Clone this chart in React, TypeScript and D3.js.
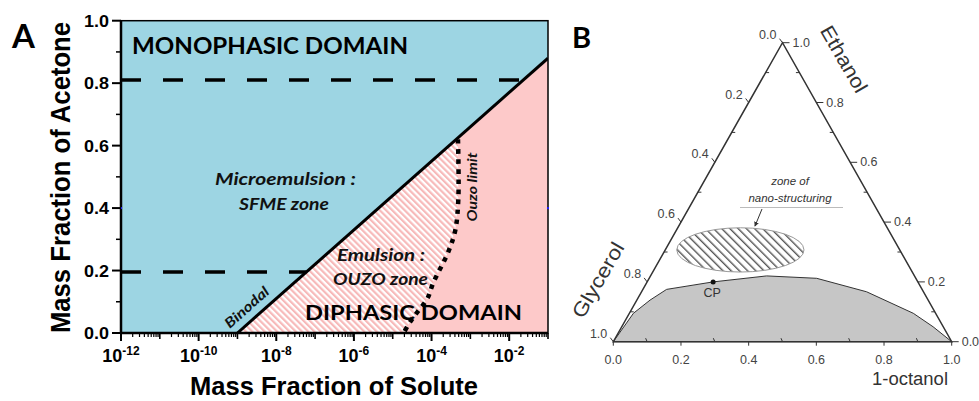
import * as d3 from "d3";

// ---- panel A data ----
const yTicks = [0, 0.2, 0.4, 0.6, 0.8, 1.0];
const yMinorTicks = [0.1, 0.3, 0.5, 0.7, 0.9];
const xTickExps = [-12, -10, -8, -6, -4, -2];
const binodal: [number, number][] = [
  [1e-9, 0],
  [1e-1, 0.88],
];
const ouzoLimit: [number, number][] = [
  [4.8e-4, 0.62],
  [4.9e-4, 0.43],
  [4.1e-4, 0.33],
  [2.7e-4, 0.26],
  [1.1e-4, 0.16],
  [7.8e-5, 0.11],
  [4.5e-5, 0.07],
  [2.8e-5, 0.035],
  [1.9e-5, 0],
];
const dashLevels = [0.81, 0.195];

// ---- panel B data (octanol, ethanol); glycerol = 1 - both ----
const ternTicks = [0, 0.2, 0.4, 0.6, 0.8, 1.0];
const ternMinor = [0.1, 0.3, 0.5, 0.7, 0.9];
const binodalB: [number, number][] = [
  [0, 0],
  [0.012, 0.095],
  [0.039, 0.139],
  [0.07, 0.175],
  [0.195, 0.2],
  [0.343, 0.22],
  [0.495, 0.212],
  [0.665, 0.167],
  [0.839, 0.095],
  [0.92, 0.05],
  [1, 0],
];
const cpPoint: [number, number] = [0.195, 0.2];
const nanoZone = { o: 0.222, e: 0.307, ro: 0.188, re: 0.074 };

const BLUE = "#9dd5e3";
const PINK = "#fdc9c9";
const ARIAL = "'Liberation Sans', Arial, sans-serif";
const CAL = "Lato, 'Open Sans', sans-serif";

function PanelA() {
  const x = d3.scaleLog().domain([1e-12, 1e-1]).range([121, 548]);
  const y = d3.scaleLinear().domain([0, 1]).range([333, 20.7]);
  const line = d3
    .line<[number, number]>()
    .x((d) => x(d[0]))
    .y((d) => y(d[1]));
  const ouzoLine = d3
    .line<[number, number]>()
    .x((d) => x(d[0]))
    .y((d) => y(d[1]))
    .curve(d3.curveCatmullRom);

  // where a level crosses the binodal (log-linear)
  const binLog = d3
    .scaleLinear()
    .domain([binodal[0][1], binodal[1][1]])
    .range([Math.log10(binodal[0][0]), Math.log10(binodal[1][0])]);

  const minorX: number[] = [];
  for (let e = -12; e < -1; e++) for (let k = 2; k < 10; k++) minorX.push(k * 10 ** e);
  const midDecades = [-11, -9, -7, -5, -3, -1];

  const [x0, x1] = x.range();
  const [y0, y1] = y.range();

  return (
    <g>
      <defs>
        <pattern
          id="pinkHatch"
          patternUnits="userSpaceOnUse"
          width={4.4}
          height={4.4}
          patternTransform="rotate(-45)"
        >
          <rect width={4.4} height={4.4} fill="#fff" />
          <rect width={2.2} height={4.4} fill="#f7b9b9" />
        </pattern>
        <clipPath id="clipA">
          <rect x={x0} y={y1} width={x1 - x0} height={y0 - y1} />
        </clipPath>
      </defs>
      <rect x={x0} y={y1} width={x1 - x0} height={y0 - y1} fill={BLUE} />
      <g clipPath="url(#clipA)">
        <path d={line([binodal[0], binodal[1], [1e-1, 0]]) + "Z"} fill={PINK} />
        <path d={line([binodal[0], ...ouzoLimit]) + "Z"} fill="url(#pinkHatch)" />
        {dashLevels.map((lv) => (
          <line
            key={lv}
            x1={x0}
            x2={x(10 ** binLog(lv))}
            y1={y(lv)}
            y2={y(lv)}
            stroke="#000"
            strokeWidth={3.5}
            strokeDasharray="20 22"
          />
        ))}
        <path d={line(binodal)!} fill="none" stroke="#000" strokeWidth={3} />
        <path
          d={ouzoLine(ouzoLimit)!}
          fill="none"
          stroke="#000"
          strokeWidth={4.5}
          strokeDasharray="4.5 5.5"
        />
      </g>
      {/* frame */}
      <rect x={x0} y={y1} width={x1 - x0} height={y0 - y1} fill="none" stroke="#000" strokeWidth={1.5} />
      <line x1={x0} x2={x0} y1={y1} y2={y0} stroke="#000" strokeWidth={2.5} />
      <line x1={x0} x2={x1} y1={y0} y2={y0} stroke="#000" strokeWidth={2.5} />
      <rect x={x0 - 1} y={y(0.4) - 1} width={2} height={2} fill="#2020ff" />
      <rect x={x1 - 1} y={y(0.4) - 1} width={2} height={2} fill="#2020ff" />

      {/* y axis */}
      {yTicks.map((t) => (
        <g key={t}>
          <line x1={x0 - 9} x2={x0} y1={y(t)} y2={y(t)} stroke="#000" strokeWidth={2} />
          <text
            x={x0 - 12}
            y={y(t) + 6}
            textAnchor="end"
            fontFamily={ARIAL}
            fontWeight="bold"
            fontSize={17}
            textLength={25}
            lengthAdjust="spacingAndGlyphs"
          >
            {t.toFixed(1)}
          </text>
        </g>
      ))}
      {yMinorTicks.map((t) => (
        <line key={t} x1={x0 - 5} x2={x0} y1={y(t)} y2={y(t)} stroke="#000" strokeWidth={1.5} />
      ))}

      {/* x axis */}
      {minorX.map((v, i) => (
        <line key={i} x1={x(v)} x2={x(v)} y1={y0} y2={y0 + 4} stroke="#000" strokeWidth={1.2} />
      ))}
      {midDecades.map((e) => (
        <line key={e} x1={x(10 ** e)} x2={x(10 ** e)} y1={y0} y2={y0 + 6} stroke="#000" strokeWidth={1.6} />
      ))}
      {xTickExps.map((e) => (
        <g key={e}>
          <line x1={x(10 ** e)} x2={x(10 ** e)} y1={y0} y2={y0 + 8} stroke="#000" strokeWidth={2} />
          <text
            x={x(10 ** e)}
            y={362}
            textAnchor="middle"
            fontFamily={ARIAL}
            fontWeight="bold"
            fontSize={18}
          >
            <tspan>10</tspan>
            <tspan dy={-7} fontSize={12}>
              {String(e)}
            </tspan>
          </text>
        </g>
      ))}

      {/* axis titles */}
      <text
        transform="translate(70,177.5) rotate(-90)"
        textAnchor="middle"
        fontFamily={ARIAL}
        fontWeight="bold"
        fontSize={27}
        textLength={311}
        lengthAdjust="spacingAndGlyphs"
      >
        Mass Fraction of Acetone
      </text>
      <text
        x={334}
        y={395}
        textAnchor="middle"
        fontFamily={ARIAL}
        fontWeight="bold"
        fontSize={26}
        textLength={288}
        lengthAdjust="spacingAndGlyphs"
      >
        Mass Fraction of Solute
      </text>
      <text x={12} y={48} fontFamily={CAL} fontWeight="bold" fontSize={33}>
        A
      </text>

      {/* annotations */}
      <text x={132} y={54} fontFamily={CAL} fontWeight="bold" fontSize={22} textLength={276} lengthAdjust="spacingAndGlyphs">
        MONOPHASIC DOMAIN
      </text>
      <text x={305} y={320} fontFamily={CAL} fontWeight="bold" fontSize={21} textLength={217} lengthAdjust="spacingAndGlyphs">
        DIPHASIC DOMAIN
      </text>
      <g fontFamily={CAL} fontWeight="bold" fontStyle="italic" fontSize={17} fill="#111">
        <text x={215} y={185} textLength={141} lengthAdjust="spacingAndGlyphs">
          Microemulsion :
        </text>
        <text x={239} y={210} textLength={90} lengthAdjust="spacingAndGlyphs">
          SFME zone
        </text>
        <text x={337} y={261} textLength={88} lengthAdjust="spacingAndGlyphs">
          Emulsion :
        </text>
        <text x={333} y={285} textLength={95} lengthAdjust="spacingAndGlyphs">
          OUZO zone
        </text>
      </g>
      <g fontFamily={CAL} fontWeight="bold" fontStyle="italic" fontSize={14} fill="#111">
        <text transform="translate(250,311) rotate(-41.5)" textAnchor="middle" textLength={54} lengthAdjust="spacingAndGlyphs">
          Binodal
        </text>
        <text transform="translate(477,187) rotate(-90)" textAnchor="middle" textLength={69} lengthAdjust="spacingAndGlyphs">
          Ouzo limit
        </text>
      </g>
    </g>
  );
}

function PanelB() {
  const xs = d3.scaleLinear().domain([0, 1]).range([613.3, 951.7]);
  const ys = d3.scaleLinear().domain([0, 1]).range([341.7, 42.7]);
  const px = (o: number, e: number) => xs(o + e / 2);
  const py = (_o: number, e: number) => ys(e);
  const tline = d3
    .line<[number, number]>()
    .x((d) => px(d[0], d[1]))
    .y((d) => py(d[0], d[1]));

  const tri: [number, number][] = [
    [0, 0],
    [1, 0],
    [0, 1],
  ];
  const INK = "#333";
  const LBL = "#444";
  const cx = px(nanoZone.o, nanoZone.e);
  const cy = py(nanoZone.o, nanoZone.e);
  const rx = xs(nanoZone.ro) - xs(0);
  const ry = ys(0) - ys(nanoZone.re);

  return (
    <g>
      <defs>
        <pattern
          id="grayHatch"
          patternUnits="userSpaceOnUse"
          width={5.8}
          height={5.8}
          patternTransform="rotate(-45)"
        >
          <rect width={5.8} height={5.8} fill="#fff" />
          <rect width={1.4} height={5.8} fill="#555" />
        </pattern>
        <marker id="arrowB" viewBox="0 0 6 6" refX={5} refY={3} markerWidth={5} markerHeight={5} orient="auto">
          <path d="M0,0 L6,3 L0,6 Z" fill="#333" />
        </marker>
      </defs>
      <path d={tline(binodalB) + "Z"} fill="#c6c6c6" stroke={INK} strokeWidth={1} />
      <path d={tline(tri) + "Z"} fill="none" stroke={INK} strokeWidth={1.5} />
      <ellipse cx={cx} cy={cy} rx={rx} ry={ry} fill="url(#grayHatch)" stroke="#999" strokeWidth={1} />

      {/* ticks */}
      {ternMinor.map((v) => (
        <g key={v} stroke={INK} strokeWidth={1}>
          <line x1={px(v, 0)} x2={px(v, 0) - 1.5} y1={py(v, 0)} y2={py(v, 0) - 3.5} />
          <line x1={px(0, 1 - v)} x2={px(0, 1 - v) + 3.5} y1={py(0, 1 - v)} y2={py(0, 1 - v)} />
          <line x1={px(1 - v, v)} x2={px(1 - v, v) - 3.5} y1={py(1 - v, v)} y2={py(1 - v, v)} />
        </g>
      ))}
      {ternTicks.map((v) => (
        <g key={v}>
          <g stroke={INK} strokeWidth={1}>
            <line x1={px(v, 0)} x2={px(v, 0)} y1={py(v, 0)} y2={py(v, 0) + 4} />
            <line x1={px(0, 1 - v)} x2={px(0, 1 - v) - 3} y1={py(0, 1 - v)} y2={py(0, 1 - v) - 4} />
            <line x1={px(1 - v, v)} x2={px(1 - v, v) + 7} y1={py(1 - v, v)} y2={py(1 - v, v)} />
          </g>
          <g fontFamily={ARIAL} fontSize={12.5} fill={LBL}>
            <text x={px(v, 0)} y={364} textAnchor="middle">
              {v.toFixed(1)}
            </text>
            <text x={px(0, 1 - v) - 6} y={py(0, 1 - v) - 4} textAnchor="end">
              {v.toFixed(1)}
            </text>
            <text x={px(1 - v, v) + 10} y={py(1 - v, v) + 4}>
              {v.toFixed(1)}
            </text>
          </g>
        </g>
      ))}

      {/* axis titles */}
      <g fontFamily={ARIAL} fontSize={20} fill={INK}>
        <text transform="translate(844,59) rotate(60)" textAnchor="middle" dy={7} textLength={74} lengthAdjust="spacingAndGlyphs">
          Ethanol
        </text>
        <text transform="translate(598,280) rotate(-60)" textAnchor="middle" dy={7} textLength={84} lengthAdjust="spacingAndGlyphs">
          Glycerol
        </text>
        <text x={948} y={385} textAnchor="end" fontSize={18} textLength={76} lengthAdjust="spacingAndGlyphs">
          1-octanol
        </text>
      </g>

      {/* CP */}
      <circle cx={px(cpPoint[0], cpPoint[1])} cy={py(cpPoint[0], cpPoint[1])} r={2.5} fill="#111" />
      <text x={px(cpPoint[0], cpPoint[1]) - 1} y={297} textAnchor="middle" fontFamily={ARIAL} fontSize={12.5} fill={INK}>
        CP
      </text>

      {/* nano-structuring note */}
      <g fontFamily={ARIAL} fontStyle="italic" fontSize={11.5} fill={INK}>
        <text x={790} y={185} textAnchor="middle">
          zone of
        </text>
        <text x={790} y={202} textAnchor="middle">
          nano-structuring
        </text>
      </g>
      <line x1={740} x2={843} y1={207.5} y2={207.5} stroke="#bbb" strokeWidth={1} />
      <line x1={762} y1={209} x2={755} y2={226} stroke="#333" strokeWidth={1} markerEnd="url(#arrowB)" />

      <text x={572} y={48} fontFamily={CAL} fontWeight="bold" fontSize={29}>
        B
      </text>
    </g>
  );
}

export default function App() {
  return (
    <svg
      width={979}
      height={401}
      style={{ position: "absolute", left: 0, top: 0, background: "#fff" }}
    >
      <rect width={979} height={401} fill="#fff" />
      <PanelA />
      <PanelB />
    </svg>
  );
}
